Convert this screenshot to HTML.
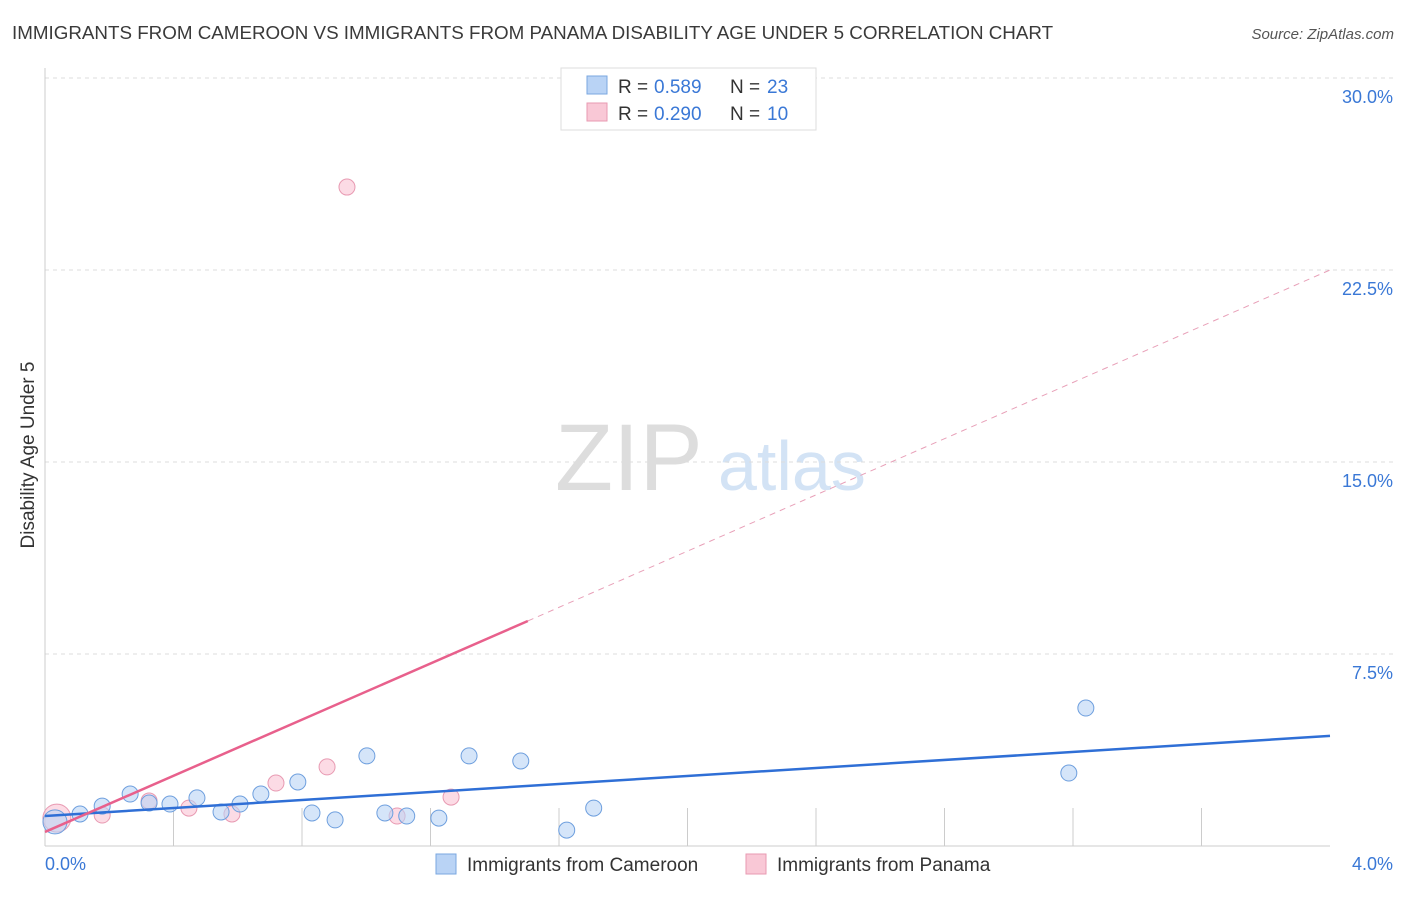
<!DOCTYPE html>
<html><head><meta charset="utf-8"><style>
body{margin:0;background:#fff;font-family:"Liberation Sans",sans-serif;}
svg text{font-family:"Liberation Sans",sans-serif;}
</style></head><body>
<svg id="c" width="1406" height="892">
<text x="12" y="39" font-size="18.8" fill="#3a3a3a">IMMIGRANTS FROM CAMEROON VS IMMIGRANTS FROM PANAMA DISABILITY AGE UNDER 5 CORRELATION CHART</text>
<text x="1394" y="39" font-size="15" fill="#555" font-style="italic" text-anchor="end">Source: ZipAtlas.com</text>
<text x="34" y="455" font-size="19" fill="#333" text-anchor="middle" transform="rotate(-90 34 455)">Disability Age Under 5</text>
<text x="555" y="490" font-size="95" fill="#ddd" font-family="Liberation Serif">ZIP</text>
<text x="718" y="490" font-size="70" fill="#d3e3f5">atlas</text>
<g id="grid"></g><g id="pts"></g>
<g>
<rect x="561" y="68" width="255" height="62" fill="#fff" stroke="#ddd"/>
<rect x="587" y="76" width="20" height="18" fill="#b9d3f5" stroke="#7aa7e0"/>
<text x="618" y="93" font-size="19" fill="#333">R =</text>
<text x="654" y="93" font-size="19" fill="#3a78d6">0.589</text>
<text x="730" y="93" font-size="19" fill="#333">N =</text>
<text x="767" y="93" font-size="19" fill="#3a78d6">23</text>
<rect x="587" y="103" width="20" height="18" fill="#f9c8d6" stroke="#e89ab2"/>
<text x="618" y="120" font-size="19" fill="#333">R =</text>
<text x="654" y="120" font-size="19" fill="#3a78d6">0.290</text>
<text x="730" y="120" font-size="19" fill="#333">N =</text>
<text x="767" y="120" font-size="19" fill="#3a78d6">10</text>
</g>
<g>
<rect x="436" y="854" width="20" height="20" fill="#b9d3f5" stroke="#7aa7e0"/>
<text x="467" y="871" font-size="19" fill="#333">Immigrants from Cameroon</text>
<rect x="746" y="854" width="20" height="20" fill="#f9c8d6" stroke="#e89ab2"/>
<text x="777" y="871" font-size="19" fill="#333">Immigrants from Panama</text>
</g>
</svg>
<script>
const yTicks=[7.5,15,22.5,30];
const yTickLabels=["7.5%","15.0%","22.5%","30.0%"];
const xTickLabels=["0.0%","4.0%"];
const cameroonX=[0.031,0.109,0.178,0.265,0.324,0.389,0.473,0.548,0.607,0.672,0.787,0.831,0.903,1.002,1.058,1.126,1.226,1.320,1.481,1.624,1.708,3.187,3.240];
const cameroonY=[0.94,1.25,1.56,2.03,1.68,1.64,1.88,1.33,1.64,2.03,2.50,1.29,1.02,3.52,1.29,1.17,1.09,3.52,3.32,0.62,1.48,2.85,5.39];
const panamaX=[0.037,0.178,0.324,0.448,0.582,0.719,0.878,0.940,1.096,1.264];
const panamaY=[1.09,1.21,1.76,1.48,1.25,2.46,3.09,25.74,1.17,1.91];
const blueLine=[[0,1.17],[4,4.30]];
const pinkLine=[[0,0.55],[1.503,8.79],[4,22.5]];
const X=v=>45+v/4*1285, Y=v=>846-v/30*768;
const ns="http://www.w3.org/2000/svg";
function mk(t,a,p){const e=document.createElementNS(ns,t);for(const k in a)e.setAttribute(k,a[k]);p.appendChild(e);return e;}
const g=document.getElementById('grid'),P=document.getElementById('pts');
yTicks.forEach((t,i)=>{
 const l=mk('line',{x1:45,x2:1395,y1:Y(t),y2:Y(t),stroke:'#ddd','stroke-dasharray':'4,4'},g);
 
 
 const tx=mk('text',{x:1393,y:Y(t)+25,'font-size':18,fill:'#3a78d6','text-anchor':'end'},g);tx.textContent=yTickLabels[i];
 
 
});
const ax=mk('line',{x1:45,x2:45,y1:68,y2:846,stroke:'#ccc'},g);


const bx=mk('line',{x1:45,x2:1330,y1:846,y2:846,stroke:'#ccc'},g);


for(let i=0;i<=10;i++){const t=mk('line',{x1:X(i*0.4),x2:X(i*0.4),y1:846,y2:i%10?808:846,stroke:'#ccc'},g);
 
 }
xTickLabels.forEach((s,i)=>{const t=mk('text',{x:i?1393:45,y:870,'font-size':18,fill:'#3a78d6','text-anchor':i?'end':'start'},g);t.textContent=s;
 
 });
panamaX.forEach((x,i)=>{const c=mk('circle',{cx:X(x),cy:Y(panamaY[i]),r:i==0?14:8,fill:'rgba(249,190,208,0.55)',stroke:'#e89ab2'},P);
 
 });
cameroonX.forEach((x,i)=>{const c=mk('circle',{cx:X(x),cy:Y(cameroonY[i]),r:i==0?12:8,fill:'rgba(185,211,245,0.6)',stroke:'#6e9fde'},P);
 
 });
const bl=mk('line',{x1:X(blueLine[0][0]),y1:Y(blueLine[0][1]),x2:X(blueLine[1][0]),y2:Y(blueLine[1][1]),stroke:'#2f6fd6','stroke-width':2.5},P);


const pl=mk('line',{x1:X(pinkLine[0][0]),y1:Y(pinkLine[0][1]),x2:X(pinkLine[1][0]),y2:Y(pinkLine[1][1]),stroke:'#e8608c','stroke-width':2.5},P);


const pd=mk('line',{x1:X(pinkLine[1][0]),y1:Y(pinkLine[1][1]),x2:X(pinkLine[2][0]),y2:Y(pinkLine[2][1]),stroke:'#e8a0b8','stroke-width':1,'stroke-dasharray':'6,5'},P);


</script>
</body></html>
